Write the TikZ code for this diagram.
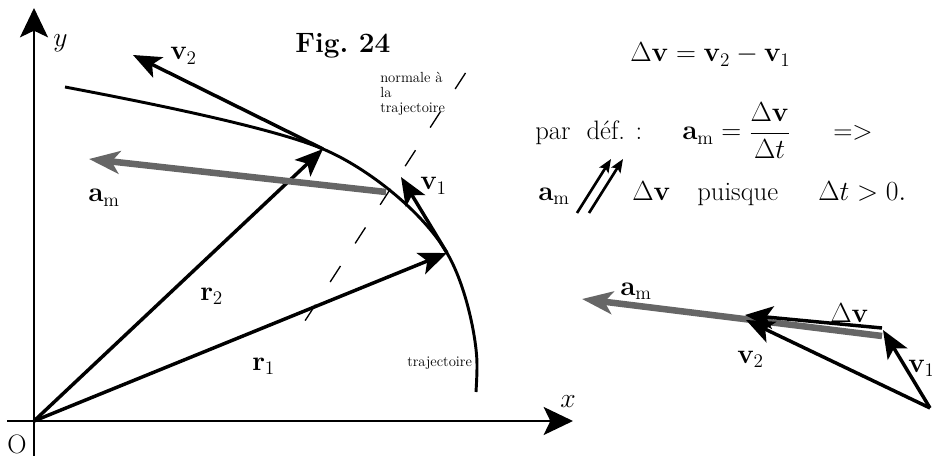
\documentclass[tikz,border=0pt]{standalone}
\usetikzlibrary{arrows.meta}
\begin{document}
\begin{tikzpicture}[x=0.75pt,y=-0.75pt,
  lbl/.style={inner sep=0pt, anchor=base west, font=\fontsize{20}{24}\selectfont},
  smalltxt/.style={inner sep=0pt, font=\fontsize{11}{11.25}\selectfont},
  axis/.style={line width=1.7pt, -{Stealth[length=22pt,width=21pt,inset=5pt]}},
  vec/.style={line width=2.6pt, -{Stealth[length=21pt,width=17pt,inset=5pt]}},
  accel/.style={line width=4.9pt, draw=black!60, -{Stealth[length=23pt,width=17pt,inset=6pt]}},
  traj/.style={line width=2.2pt},
  normalline/.style={line width=1pt, dash pattern=on 14.25pt off 20.25pt},
  par/.style={line width=2pt, -{Stealth[length=10pt,width=8pt,inset=2pt]}},
]
\useasboundingbox (0,0) rectangle (932,456);

% coordinates of the main figure
\coordinate (O) at (34,421);
\coordinate (Ybot) at (34,456);
\coordinate (Ytop) at (34,8);
\coordinate (Xleft) at (7,421);
\coordinate (Xright) at (573,421);
\coordinate (T0) at (65,87);
\coordinate (P2) at (323,149);
\coordinate (P1) at (447,253);
\coordinate (T3) at (477,365);
\coordinate (T4) at (476,392);
\coordinate (V2) at (133,55);
\coordinate (V1) at (401,177);
\coordinate (Atail) at (386,192);
\coordinate (Atip) at (89,159);
\coordinate (N1) at (465.5,73);
\coordinate (N2) at (301,327);

% axes
\draw[axis] (Ybot) -- (Ytop);
\draw[axis] (Xleft) -- (Xright);

% trajectory
\draw[traj] (T0) .. controls (124,98.2) and (267.7,125.8) .. (P2)
  .. controls (367.3,167.6) and (422.7,211.6) .. (P1)
  .. controls (466.3,285.8) and (477,340) .. (T3)
  .. controls (477,375) and (476.5,383) .. (T4);

% normal
\draw[normalline] (N1) -- (N2);

% vectors
\draw[vec] (O) -- (P1);
\draw[vec] (O) -- (P2);
\draw[accel] (Atail) -- (Atip);
\draw[vec] (P1) -- (V1);
\draw[vec] (P2) -- (V2);

% labels main figure
\node[lbl] (ly) at (53,47) {$y$};
\node[lbl] (lx) at (560,407) {$x$};
\node[lbl] (lO) at (7,453) {O};
\node[lbl] (lv2) at (170,60) {$\mathbf{v}_2$};
\node[lbl] (lam) at (88,202) {$\mathbf{a}_{\mathrm{m}}$};
\node[lbl] (lv1) at (420,190) {$\mathbf{v}_1$};
\node[lbl] (lr2) at (200,300) {$\mathbf{r}_2$};
\node[lbl] (lr1) at (252,370) {$\mathbf{r}_1$};
\node[lbl, font=\fontsize{21}{25}\selectfont\bfseries] (fig) at (295,53) {Fig.\ 24};
\node[smalltxt, anchor=north west, align=left] (norm) at (380,72) {normale à\\la\\trajectoire};
\node[smalltxt, anchor=base west] (ltraj) at (407,366) {trajectoire};

% text block
\node[lbl] (eq1) at (630,62) {$\Delta\mathbf{v} = \mathbf{v}_2 - \mathbf{v}_1$};
\node[lbl] (pardef) at (535,140) {par\hspace{0.6em}déf.\hspace{0.4em}:};
\node[lbl] (amdef) at (682,140) {$\displaystyle\mathbf{a}_{\mathrm{m}} = \frac{\Delta\mathbf{v}}{\Delta t}$};
\node[lbl] (impl) at (833,140) {=>};
\node[lbl] (am3) at (538,200) {$\mathbf{a}_{\mathrm{m}}$};
\node[lbl] (dv3) at (632,200) {$\Delta\mathbf{v}$};
\node[lbl] (puis) at (697,200) {puisque};
\node[lbl] (dt) at (818,200) {$\Delta t > 0.$};

\coordinate (pa1) at (577,213);
\coordinate (pb1) at (611,159);
\coordinate (pa2) at (589,213);
\coordinate (pb2) at (623,159);
\draw[par] (pa1) -- (pb1);
\draw[par] (pa2) -- (pb2);

% small vector diagram
\coordinate (Q) at (930,408);
\coordinate (Q1) at (883,330);
\coordinate (Q2) at (746,320);
\coordinate (Dtail) at (882,328);
\coordinate (Dtip) at (745,315);
\coordinate (Gtail) at (882,336);
\coordinate (Gtip) at (582,299);
\draw[accel] (Gtail) -- (Gtip);
\draw[vec] (Q) -- (Q1);
\draw[vec] (Q) -- (Q2);
\draw[vec] (Dtail) -- (Dtip);

\node[lbl] (sam) at (620,295) {$\mathbf{a}_{\mathrm{m}}$};
\node[lbl] (sdv) at (830,322) {$\Delta\mathbf{v}$};
\node[lbl] (sv2) at (737,363) {$\mathbf{v}_2$};
\node[lbl] (sv1) at (908,372) {$\mathbf{v}_1$};
\end{tikzpicture}
\end{document}
